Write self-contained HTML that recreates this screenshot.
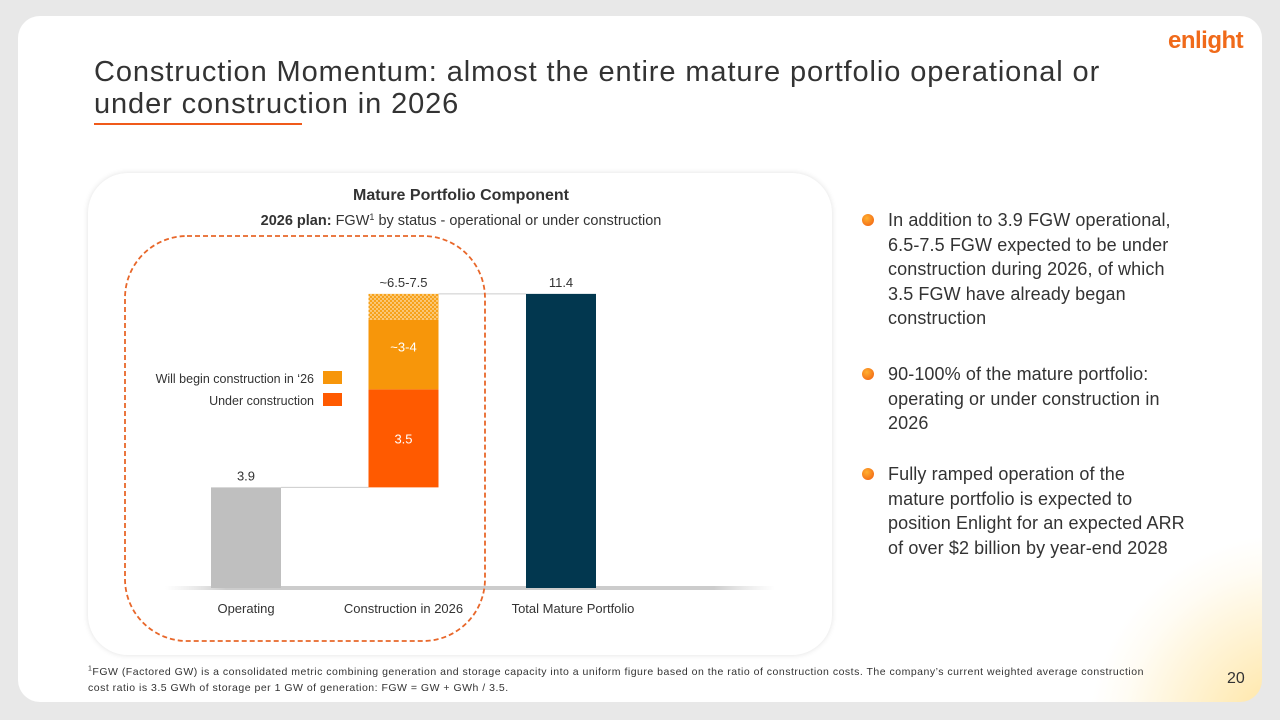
<!DOCTYPE html>
<html><head><meta charset="utf-8"><style>
body{margin:0;width:1280px;height:720px;background:#e8e8e8;font-family:"Liberation Sans",sans-serif;overflow:hidden;position:relative}
.slide{position:absolute;left:18px;top:16px;width:1244px;height:686px;border-radius:22px;overflow:hidden;background:radial-gradient(circle 280px at 1272px 720px,rgba(255,200,60,.55) 0%,rgba(255,215,110,.35) 35%,rgba(255,235,180,.15) 60%,rgba(255,255,255,0) 72%),#fff}
h1{position:absolute;left:94px;top:56px;margin:0;font-weight:normal;font-size:29px;line-height:32px;color:#333;white-space:nowrap;letter-spacing:0.9px}
.uline{position:absolute;left:94px;top:123px;width:208px;height:2px;background:#f05a1a}
.panel{position:absolute;left:88px;top:173px;width:744px;height:482px;border-radius:40px;background:#fff;box-shadow:0 0 6px rgba(0,0,0,.12)}
.bul{position:absolute;left:888px;font-size:18px;line-height:24.5px;color:#333;white-space:nowrap;letter-spacing:0.1px}
.dot{position:absolute;left:-26px;top:6px;width:12px;height:12px;border-radius:50%;background:radial-gradient(circle at 40% 35%,#ffb030,#f05a10)}
.foot{position:absolute;left:88px;top:664px;font-size:10.5px;line-height:16px;color:#333;white-space:nowrap;letter-spacing:0.5px}
.logo{position:absolute;left:1168px;top:27px;font-size:24px;font-weight:bold;color:#f06a1a;letter-spacing:-0.5px}
</style></head><body>
<div class="slide"></div>
<div class="logo">enlight</div>
<h1>Construction Momentum: almost the entire mature portfolio operational or<br>under construction in 2026</h1>
<div class="uline"></div>
<div class="panel"></div>
<svg id="chart" width="1280" height="720" style="position:absolute;left:0;top:0">
<defs><pattern id="dots" width="4" height="4" patternUnits="userSpaceOnUse"><rect width="4" height="4" fill="#f7a21a"/><circle cx="1" cy="1" r="0.7" fill="#fff"/><circle cx="3" cy="3" r="0.7" fill="#fff"/></pattern>
<linearGradient id="base" x1="0" x2="1"><stop offset="0" stop-color="#ddd" stop-opacity="0"/><stop offset=".1" stop-color="#ccc"/><stop offset=".9" stop-color="#ccc"/><stop offset="1" stop-color="#ddd" stop-opacity="0"/></linearGradient></defs>
<text x="461" y="200" text-anchor="middle" font-size="16" font-weight="bold" fill="#333">Mature Portfolio Component</text>
<text x="461" y="225" text-anchor="middle" font-size="14.5" fill="#333"><tspan font-weight="bold">2026 plan:</tspan> FGW<tspan font-size="9" dy="-5">1</tspan><tspan dy="5"> by status - operational or under construction</tspan></text>
<rect x="165" y="586" width="610" height="4" fill="url(#base)"/>
<g id="marks"></g>
<rect x="125" y="236" width="360" height="405" rx="62" fill="none" stroke="#e8672a" stroke-width="1.8" stroke-dasharray="5,3"/>
<text x="314" y="383" text-anchor="end" font-size="12.5" fill="#333">Will begin construction in ‘26</text>
<rect x="323" y="371" width="19" height="13" fill="#f7960a"/>
<text x="314" y="405" text-anchor="end" font-size="12.5" fill="#333">Under construction</text>
<rect x="323" y="393" width="19" height="13" fill="#ff5a00"/>
</svg>
<div class="bul" style="top:208px"><span class="dot"></span>In addition to 3.9 FGW operational,<br>6.5-7.5 FGW expected to be under<br>construction during 2026, of which<br>3.5 FGW have already began<br>construction</div>
<div class="bul" style="top:362px"><span class="dot"></span>90-100% of the mature portfolio:<br>operating or under construction in<br>2026</div>
<div class="bul" style="top:462px"><span class="dot"></span>Fully ramped operation of the<br>mature portfolio is expected to<br>position Enlight for an expected ARR<br>of over $2 billion by year-end 2028</div>
<div class="foot"><sup style="font-size:7px;line-height:0">1</sup>FGW (Factored GW) is a consolidated metric combining generation and storage capacity into a uniform figure based on the ratio of construction costs. The company’s current weighted average construction<br>cost ratio is 3.5 GWh of storage per 1 GW of generation: FGW = GW + GWh / 3.5.</div>
<div style="position:absolute;left:1227px;top:670px;font-size:16px;color:#333">20</div>
<script>
const categories=["Operating","Construction in 2026","Total Mature Portfolio"];
const operating=[3.9];
const underConstruction=[3.8];
const willBegin=[2.7];
const upside=[1.0];
const total=[11.4];
const topLabels=["3.9","~6.5-7.5","11.4"];
const segLabels=["3.5","~3-4"];
const NS="http://www.w3.org/2000/svg";
const g=document.getElementById('marks');
const y=v=>588-v*25.8;
const xc=i=>246+i*157.5;
const bw=70;
function rect(x,y0,y1,fill,name){const r=document.createElementNS(NS,'rect');r.setAttribute('x',x-bw/2);r.setAttribute('y',y(y1));r.setAttribute('width',bw);r.setAttribute('height',y(y0)-y(y1));r.setAttribute('fill',fill);


g.appendChild(r);}
function text(x,yy,s,fill,name,size){const t=document.createElementNS(NS,'text');t.setAttribute('x',x);t.setAttribute('y',yy);t.setAttribute('text-anchor','middle');t.setAttribute('font-size',size||13);t.setAttribute('fill',fill);t.textContent=s;


g.appendChild(t);}
function line(x1,x2,v,name){const l=document.createElementNS(NS,'line');l.setAttribute('x1',x1);l.setAttribute('x2',x2);l.setAttribute('y1',y(v));l.setAttribute('y2',y(v));l.setAttribute('stroke','#ccc');


g.appendChild(l);}
const a=operating[0],b=a+underConstruction[0],c=b+willBegin[0],d=c+upside[0];
rect(xc(0),0,a,'#bfbfbf','bar-operating');
rect(xc(1),a,b,'#ff5a00','bar-under-construction');
rect(xc(1),b,c,'#f7960a','bar-will-begin');
rect(xc(1),c,d,'url(#dots)','bar-upside');
rect(xc(2),0,total[0],'#02374f','bar-total');
line(xc(0)+bw/2,xc(1)-bw/2,a,'connector-1');
line(xc(1)+bw/2,xc(2)-bw/2,total[0],'connector-2');
text(xc(0),y(a)-7,topLabels[0],'#333','label-operating');
text(xc(1),y(d)-7,topLabels[1],'#333','label-construction');
text(xc(2),y(total[0])-7,topLabels[2],'#333','label-total');
text(xc(1),(y(a)+y(b))/2+5,segLabels[0],'#fff','label-under-construction');
text(xc(1),(y(b)+y(c))/2-3,segLabels[1],'#fff','label-will-begin');
categories.forEach((cat,i)=>text(xc(i)+(i==2?12:0),613,cat,'#333','x-label-'+i));
</script>
</body></html>
